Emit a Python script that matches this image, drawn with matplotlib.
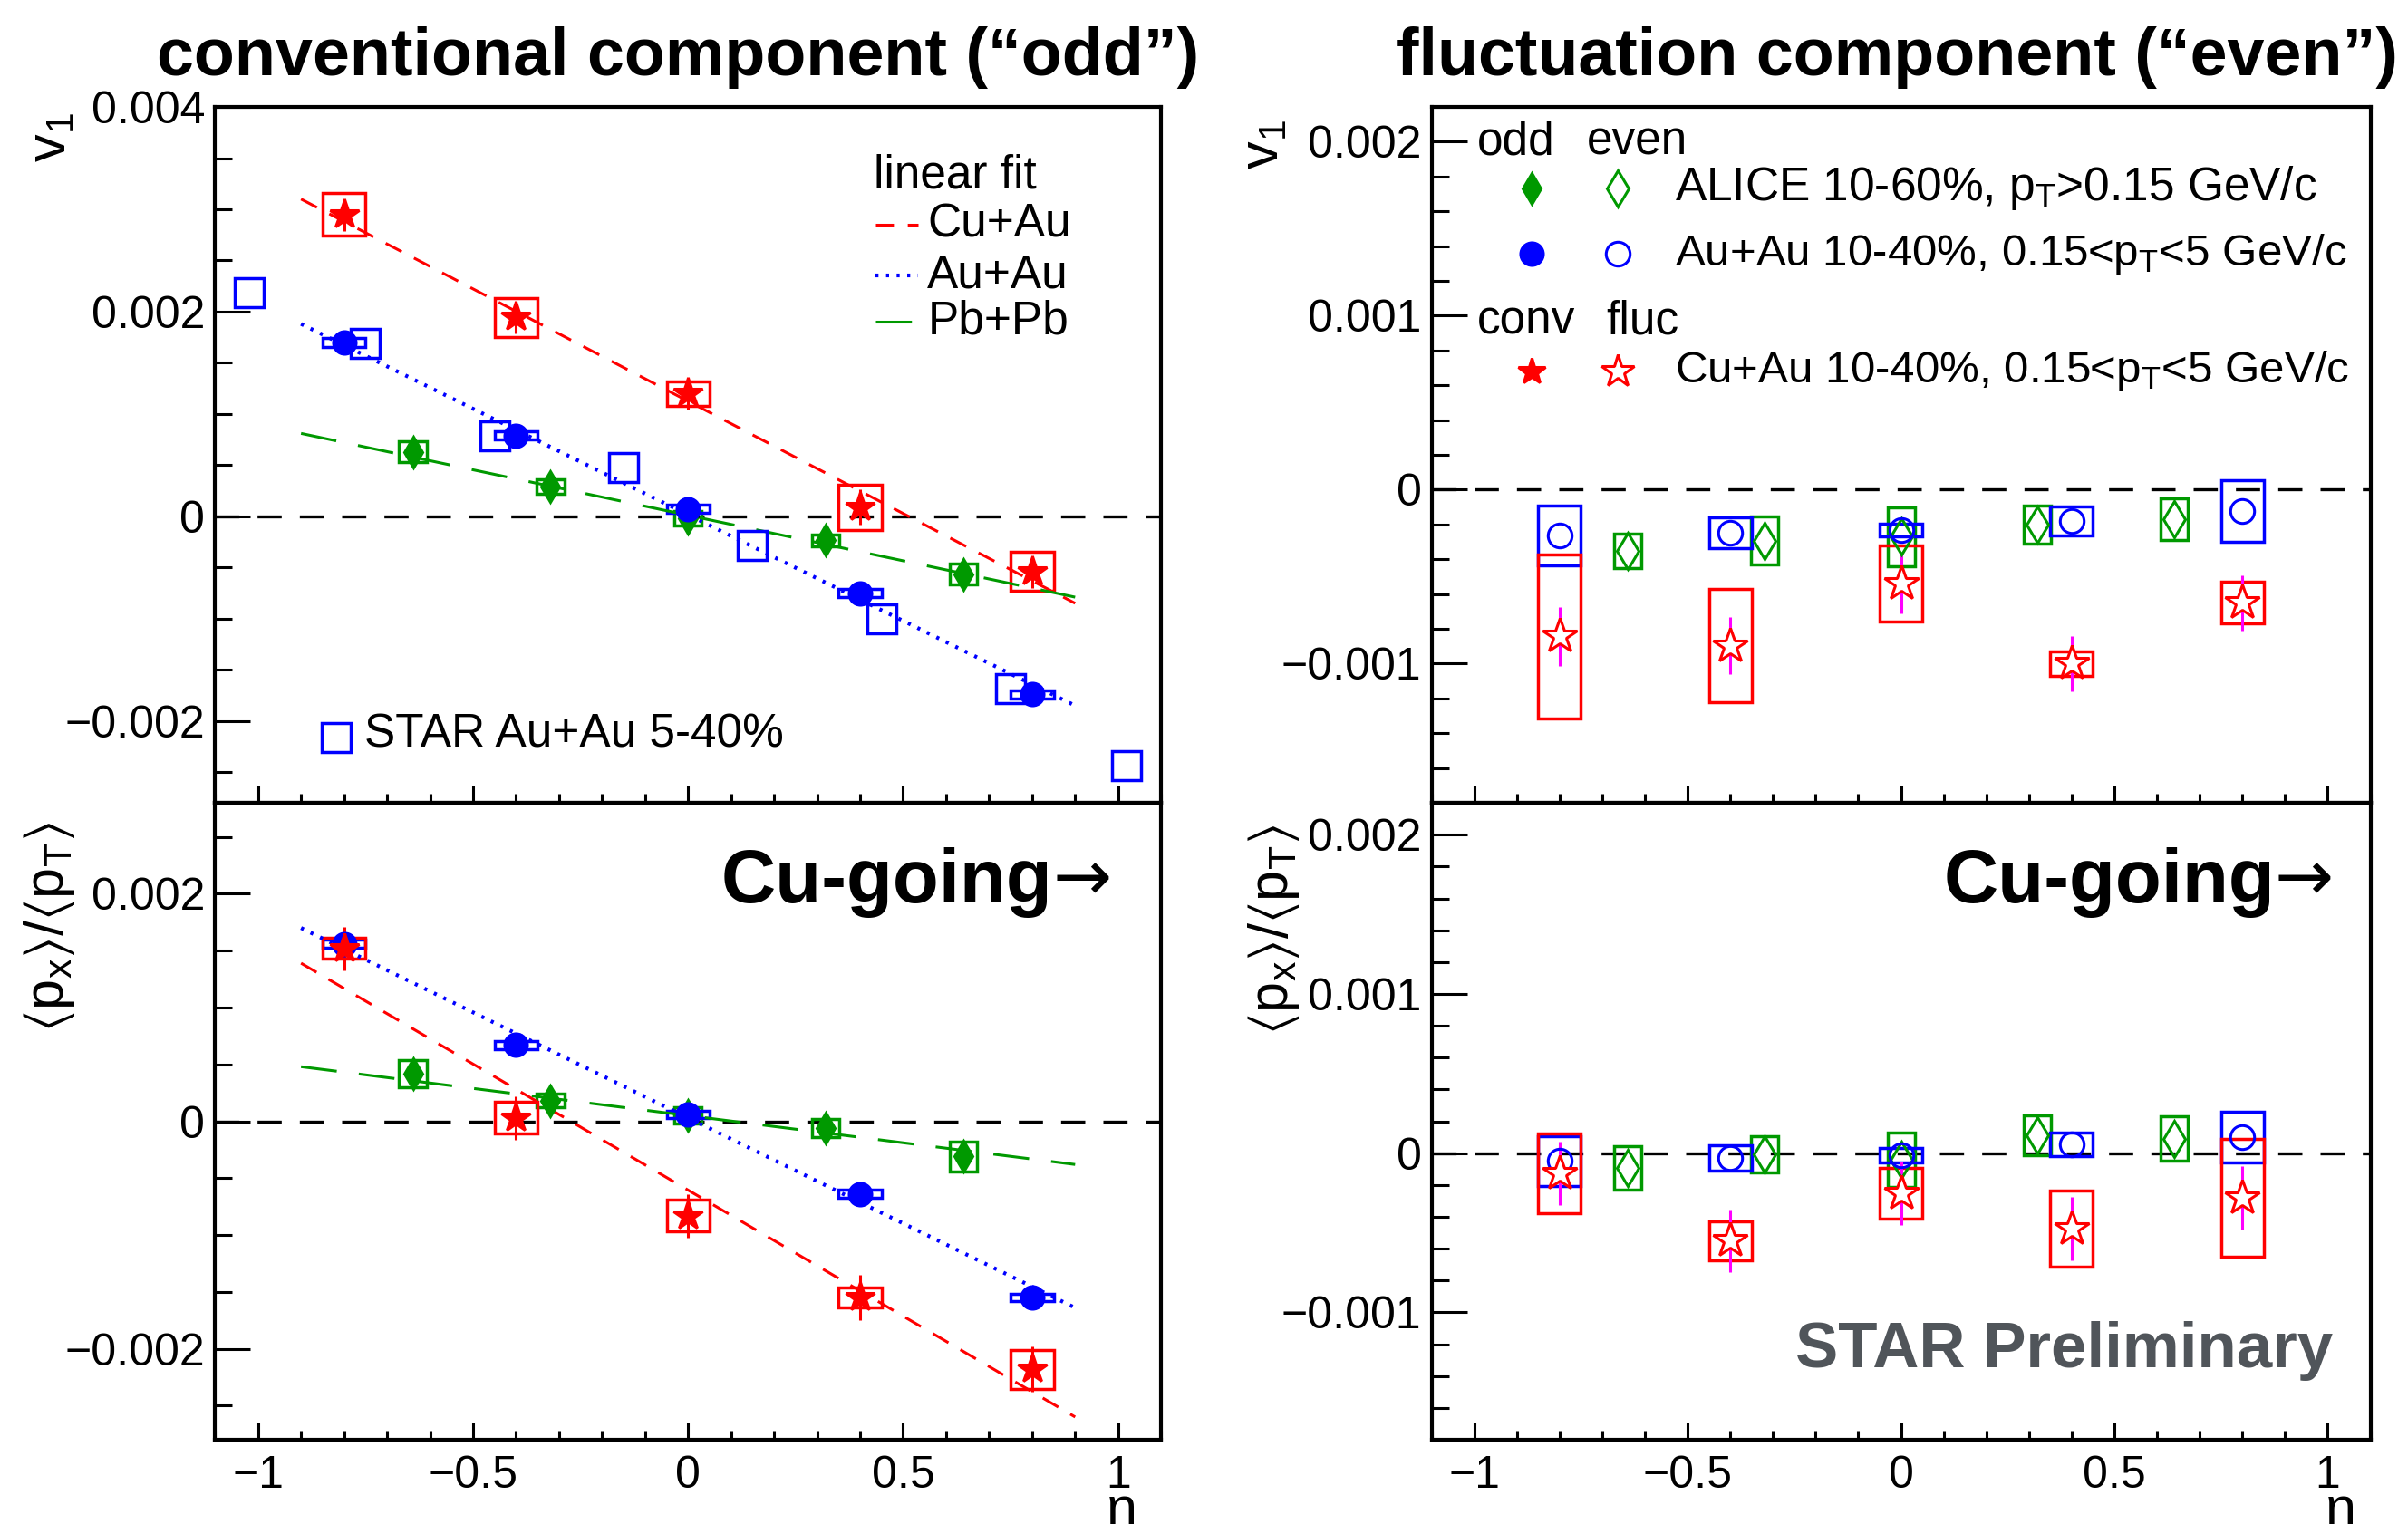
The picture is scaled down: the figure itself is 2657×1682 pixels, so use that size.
import numpy as np
import matplotlib
matplotlib.use('Agg')
from matplotlib import pyplot as plt
from matplotlib.ticker import MultipleLocator, FuncFormatter

plt.rcParams['font.family'] = ['Liberation Sans', 'DejaVu Sans']
plt.rcParams['mathtext.fontset'] = 'custom'
plt.rcParams['mathtext.rm'] = 'Liberation Sans'
plt.rcParams['mathtext.it'] = 'Liberation Sans:italic'
plt.rcParams['mathtext.default'] = 'regular'

S = 1e-3  # values below are in units of 1e-3

RED = '#ff0000'
BLUE = '#0000ff'
GREEN = '#009900'
MAGENTA = '#ff00ff'

# eta positions
eta = [-0.8, -0.4, 0.0, 0.4, 0.8]            # Cu+Au and Au+Au (this analysis)
eta_alice = [-0.64, -0.32, 0.0, 0.32, 0.64]  # ALICE Pb+Pb
eta_star = [-1.02, -0.75, -0.45, -0.15, 0.15, 0.45, 0.75, 1.02]  # STAR Au+Au 5-40%
eta_fit = [-0.9, 0.9]

# --- conventional (odd) v1 ---
cuau_v1 = [2.95, 1.945, 1.20, 0.09, -0.54]
cuau_v1_sys = [0.21, 0.19, 0.12, 0.22, 0.19]
cuau_v1_stat = [0.16, 0.16, 0.16, 0.17, 0.16]
auau_v1 = [1.70, 0.79, 0.07, -0.75, -1.74]
auau_v1_sys = [0.045, 0.04, 0.04, 0.04, 0.04]
alice_v1 = [0.63, 0.29, -0.02, -0.235, -0.565]
alice_v1_sys = [0.10, 0.07, 0.07, 0.06, 0.10]
star_v1 = [2.19, 1.69, 0.79, 0.475, -0.285, -1.0, -1.68, -2.44]
fit_cuau_v1 = [3.10, -0.85]
fit_auau_v1 = [1.88, -1.85]
fit_pbpb_v1 = [0.81, -0.79]

# --- conventional (odd) <px>/<pT> ---
cuau_px = [1.52, 0.03, -0.83, -1.55, -2.18]
cuau_px_sys = [0.09, 0.14, 0.14, 0.09, 0.17]
cuau_px_stat = [0.19, 0.19, 0.19, 0.20, 0.20]
auau_px = [1.56, 0.67, 0.06, -0.64, -1.55]
auau_px_sys = [0.035, 0.035, 0.035, 0.035, 0.035]
alice_px = [0.42, 0.18, 0.05, -0.06, -0.31]
alice_px_sys = [0.12, 0.06, 0.07, 0.08, 0.13]
fit_cuau_px = [1.39, -2.60]
fit_auau_px = [1.70, -1.64]
fit_pbpb_px = [0.48, -0.38]

# --- fluctuation (even) v1 ---
cuau_v1e = [-0.843, -0.896, -0.54, -1.0, -0.65]
cuau_v1e_sys = [0.47, 0.325, 0.22, 0.07, 0.12]
cuau_v1e_stat = [0.17, 0.165, 0.17, 0.16, 0.16]
auau_v1e = [-0.265, -0.247, -0.233, -0.18, -0.122]
auau_v1e_sys = [0.172, 0.089, 0.036, 0.082, 0.176]
alice_v1e = [-0.353, -0.292, -0.27, -0.20, -0.167]
alice_v1e_sys = [0.10, 0.14, 0.17, 0.11, 0.12]

# --- fluctuation (even) <px>/<pT> ---
cuau_pxe = [-0.128, -0.549, -0.253, -0.476, -0.282]
cuau_pxe_sys = [0.25, 0.123, 0.16, 0.238, 0.37]
cuau_pxe_stat = [0.20, 0.197, 0.20, 0.20, 0.20]
auau_pxe = [-0.05, -0.03, -0.015, 0.055, 0.10]
auau_pxe_sys = [0.157, 0.08, 0.046, 0.074, 0.16]
alice_pxe = [-0.093, -0.006, -0.04, 0.11, 0.09]
alice_pxe_sys = [0.138, 0.113, 0.17, 0.125, 0.14]


def sc(v):
    return np.array(v) * S


def boxes(ax, x, y, sys, half, color):
    y = sc(y)
    sys = sc(sys)
    ax.bar(x, 2 * sys, width=2 * half, bottom=y - sys, fill=False,
           edgecolor=color, linewidth=2.5, zorder=2)


def errs(ax, x, y, err, color):
    ax.errorbar(x, sc(y), yerr=sc(err), fmt='none', ecolor=color,
                elinewidth=2.2, capsize=0, zorder=3)


def marks(ax, x, y, marker, ms, color, filled=True, face='none'):
    ax.plot(x, sc(y), ls='none', marker=marker, ms=ms, color=color,
            mfc=color if filled else face, mec=color, mew=2.2, zorder=5)


def fitline(ax, vals, color, dashes, lw=2.2):
    ax.plot(eta_fit, sc(vals), color=color, lw=lw, dashes=dashes, zorder=4)


def fmt(v, p):
    v = round(v, 6) + 0.0
    return ('%g' % v).replace('-', '\u2212')


def style(ax, ylim, ymaj, ymin, xlabels):
    ax.set_xlim(-1.1, 1.1)
    ax.set_ylim(*ylim)
    ax.xaxis.set_major_locator(MultipleLocator(0.5))
    ax.xaxis.set_minor_locator(MultipleLocator(0.1))
    ax.yaxis.set_major_locator(MultipleLocator(ymaj))
    ax.yaxis.set_minor_locator(MultipleLocator(ymin))
    ax.xaxis.set_major_formatter(FuncFormatter(fmt))
    ax.yaxis.set_major_formatter(FuncFormatter(fmt))
    ax.tick_params(which='both', direction='in', top=False, right=False,
                   labelsize=36, width=2.2, labelbottom=xlabels)
    ax.tick_params(axis='y', which='major', length=28, pad=8)
    ax.tick_params(axis='y', which='minor', length=14)
    ax.tick_params(axis='x', which='major', length=14, pad=12)
    ax.tick_params(axis='x', which='minor', length=7)
    for s in ax.spines.values():
        s.set_linewidth(3)
    ax.axhline(0, color='k', lw=2.4, dashes=(8, 6), zorder=1)


def cu_going(ax, x):
    ax.text(x, 0.875, 'Cu-going', transform=ax.transAxes, fontsize=60,
            fontweight='bold', ha='right', va='center')
    ax.text(x, 0.878, '\u2192', transform=ax.transAxes, fontsize=56,
            family='DejaVu Sans', ha='left', va='center')


fig = plt.figure(figsize=(26.57, 16.82), dpi=100)
axLT = fig.add_axes([0.0893, 0.4732, 0.3929, 0.4566])
axLB = fig.add_axes([0.0893, 0.0553, 0.3929, 0.4179])
axRT = fig.add_axes([0.5945, 0.4732, 0.3899, 0.4566])
axRB = fig.add_axes([0.5945, 0.0553, 0.3899, 0.4179])

style(axLT, (-0.0028, 0.004), 0.002, 0.0005, False)
style(axLB, (-0.0028, 0.0028), 0.002, 0.0005, True)
style(axRT, (-0.0018, 0.0022), 0.001, 0.0002, False)
style(axRB, (-0.0018, 0.0022), 0.001, 0.0002, True)

RED_D = (6.5, 5)
BLUE_D = (0.8, 2.0)
GREEN_D = (13, 8)

# left top: conventional v1
ax = axLT
fitline(ax, fit_cuau_v1, RED, RED_D)
fitline(ax, fit_auau_v1, BLUE, BLUE_D, lw=3)
fitline(ax, fit_pbpb_v1, GREEN, GREEN_D)
boxes(ax, eta_alice, alice_v1, alice_v1_sys, 0.032, GREEN)
boxes(ax, eta, auau_v1, auau_v1_sys, 0.05, BLUE)
boxes(ax, eta, cuau_v1, cuau_v1_sys, 0.05, RED)
errs(ax, eta, cuau_v1, cuau_v1_stat, RED)
ax.plot(eta_star, sc(star_v1), ls='none', marker='s', ms=23, mfc='none',
        mec=BLUE, mew=2.5, zorder=4)
marks(ax, eta_alice, alice_v1, 'd', 17, GREEN)
marks(ax, eta, auau_v1, 'o', 18, BLUE)
marks(ax, eta, cuau_v1, '*', 24, RED)

# legend for fits
ax.text(0.696, 0.901, 'linear fit', transform=ax.transAxes, fontsize=37,
        va='center', ha='left')
leg_rows = [('Cu+Au', RED, RED_D, 0.831, 2.2), ('Au+Au', BLUE, BLUE_D, 0.758, 3),
            ('Pb+Pb', GREEN, GREEN_D, 0.691, 2.2)]
for lab, col, dsh, yy, lw in leg_rows:
    ax.plot([0.698, 0.743], [yy, yy], transform=ax.transAxes, color=col,
            lw=lw, dashes=dsh)
    ax.text(0.753, yy, lab, transform=ax.transAxes, fontsize=37,
            va='center', ha='left')
ax.plot([0.128], [0.094], transform=ax.transAxes, ls='none', marker='s',
        ms=23, mfc='none', mec=BLUE, mew=2.5)
ax.text(0.158, 0.098, 'STAR Au+Au 5-40%', transform=ax.transAxes,
        fontsize=37, va='center', ha='left')

# left bottom: conventional <px>/<pT>
ax = axLB
fitline(ax, fit_cuau_px, RED, RED_D)
fitline(ax, fit_auau_px, BLUE, BLUE_D, lw=3)
fitline(ax, fit_pbpb_px, GREEN, GREEN_D)
boxes(ax, eta_alice, alice_px, alice_px_sys, 0.032, GREEN)
boxes(ax, eta, auau_px, auau_px_sys, 0.05, BLUE)
boxes(ax, eta, cuau_px, cuau_px_sys, 0.05, RED)
errs(ax, eta, cuau_px, cuau_px_stat, RED)
marks(ax, eta_alice, alice_px, 'd', 17, GREEN)
marks(ax, eta, auau_px, 'o', 18, BLUE)
marks(ax, eta, cuau_px, '*', 24, RED)
cu_going(ax, 0.885)

# right top: fluctuation v1
ax = axRT
boxes(ax, eta_alice, alice_v1e, alice_v1e_sys, 0.032, GREEN)
boxes(ax, eta, auau_v1e, auau_v1e_sys, 0.05, BLUE)
boxes(ax, eta, cuau_v1e, cuau_v1e_sys, 0.05, RED)
errs(ax, eta, cuau_v1e, cuau_v1e_stat, MAGENTA)
marks(ax, eta_alice, alice_v1e, 'd', 20, GREEN, filled=False)
marks(ax, eta, auau_v1e, 'o', 19, BLUE, filled=False)
marks(ax, eta, cuau_v1e, '*', 29, RED, filled=False, face='white')

# legend
tf = ax.transAxes
ax.text(0.049, 0.949, 'odd', transform=tf, fontsize=37, va='center')
ax.text(0.165, 0.949, 'even', transform=tf, fontsize=37, va='center')
ax.text(0.049, 0.691, 'conv', transform=tf, fontsize=37, va='center')
ax.text(0.186, 0.691, 'fluc', transform=tf, fontsize=37, va='center')
legend_rows = [
    ('d', 17, 20, GREEN, 0.883, r'ALICE 10-60%, p$_T$>0.15 GeV/c', 37),
    ('o', 18, 19, BLUE, 0.789, r'Au+Au 10-40%, 0.15<p$_T$<5 GeV/c', 35.5),
    ('*', 22, 27, RED, 0.620, r'Cu+Au 10-40%, 0.15<p$_T$<5 GeV/c', 35.5),
]
for mk, ms1, ms2, col, yy, lab, fs in legend_rows:
    ax.plot([0.107], [yy], transform=tf, ls='none', marker=mk, ms=ms1,
            color=col, mew=2.2)
    ax.plot([0.198], [yy], transform=tf, ls='none', marker=mk, ms=ms2,
            mfc='none', mec=col, mew=2.2)
    ax.text(0.259, yy, lab, transform=tf, fontsize=fs, va='center')

# right bottom: fluctuation <px>/<pT>
ax = axRB
boxes(ax, eta_alice, alice_pxe, alice_pxe_sys, 0.032, GREEN)
boxes(ax, eta, auau_pxe, auau_pxe_sys, 0.05, BLUE)
boxes(ax, eta, cuau_pxe, cuau_pxe_sys, 0.05, RED)
errs(ax, eta, cuau_pxe, cuau_pxe_stat, MAGENTA)
marks(ax, eta_alice, alice_pxe, 'd', 20, GREEN, filled=False)
marks(ax, eta, auau_pxe, 'o', 19, BLUE, filled=False)
marks(ax, eta, cuau_pxe, '*', 29, RED, filled=False, face='white')
cu_going(ax, 0.898)
ax.text(0.96, 0.139, 'STAR Preliminary', transform=ax.transAxes,
        fontsize=51, fontweight='bold', color='#50555a', ha='right',
        va='center')

# titles and axis labels
fig.text(0.2815, 0.962, 'conventional component (\u201codd\u201d)',
         fontsize=53, fontweight='bold', ha='center', va='center')
fig.text(0.788, 0.962, 'fluctuation component (\u201ceven\u201d)',
         fontsize=53, fontweight='bold', ha='center', va='center')
fig.text(0.0215, 0.926, r'v$_1$', fontsize=44, rotation=90, ha='center', va='top')
fig.text(0.525, 0.9215, r'v$_1$', fontsize=44, rotation=90, ha='center', va='top')
fig.text(0.0205, 0.4607, r'$\langle p_x \rangle / \langle p_T \rangle$',
         fontsize=44, rotation=90, ha='center', va='top')
fig.text(0.529, 0.459, r'$\langle p_x \rangle / \langle p_T \rangle$',
         fontsize=44, rotation=90, ha='center', va='top')
fig.text(0.466, 0.025, '\u03b7', fontsize=44, ha='center', va='top')
fig.text(0.972, 0.025, '\u03b7', fontsize=44, ha='center', va='top')

fig.savefig('out.png', dpi=100)
